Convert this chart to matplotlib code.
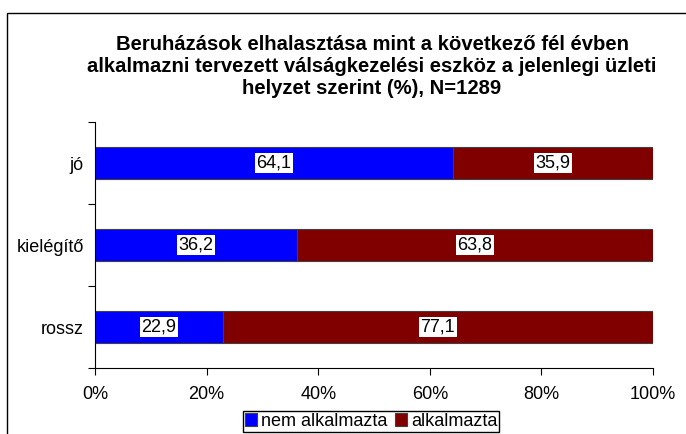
import matplotlib.pyplot as plt
import matplotlib.patches as mpatches
import numpy as np

plt.rcParams['font.family'] = ['Liberation Sans', 'DejaVu Sans']

# adatok
categories = ['jó', 'kielégítő', 'rossz']
nem_alkalmazta = [64.1, 36.2, 22.9]
alkalmazta = [35.9, 63.8, 77.1]
series_names = ['nem alkalmazta', 'alkalmazta']
colors = ['#0000FF', '#800000']
x_ticks = [0, 20, 40, 60, 80, 100]

title = ('Beruházások elhalasztása mint a következő fél évben\n'
         'alkalmazni tervezett válságkezelési eszköz a jelenlegi üzleti\n'
         'helyzet szerint (%), N=1289')

fig = plt.figure(figsize=(6.86, 4.34), dpi=100)
ax = fig.add_axes([95 / 686, 1 - 368 / 434, (653 - 95) / 686, 246 / 434])

y = np.arange(len(categories))
b1 = ax.barh(y, nem_alkalmazta, height=0.4, color=colors[0],
             edgecolor='#404040', linewidth=0.8, label=series_names[0])
b2 = ax.barh(y, alkalmazta, left=nem_alkalmazta, height=0.4, color=colors[1],
             edgecolor='#404040', linewidth=0.8, label=series_names[1])

# értékcímkék
for i in range(len(categories)):
    for left, val in [(0, nem_alkalmazta[i]), (nem_alkalmazta[i], alkalmazta[i])]:
        ax.text(left + val / 2, y[i], f'{val:.1f}'.replace('.', ','),
                ha='center', va='center', fontsize=13,
                bbox=dict(facecolor='white', edgecolor='none', pad=1))

ax.set_xlim(0, 100)
ax.set_ylim(2.5, -0.5)
ax.set_xticks(x_ticks)
ax.set_xticklabels([f'{t}%' for t in x_ticks], fontsize=13)
ax.set_yticks([-0.5, 0.5, 1.5, 2.5])
ax.set_yticklabels([])
ax.set_yticks(y, minor=True)
ax.set_yticklabels(categories, minor=True, fontsize=13)
ax.tick_params(axis='y', which='minor', length=0, pad=8)
ax.tick_params(axis='y', which='major', length=5, direction='out')
ax.tick_params(axis='x', length=5, direction='out', pad=8)
ax.spines['top'].set_visible(False)
ax.spines['right'].set_visible(False)

fig.text(372 / 686, 1 - 67 / 434, title, ha='center', va='center',
         fontsize=14.6, fontweight='bold', linespacing=1.2)

fig.legend(handles=[b1, b2], loc='center', bbox_to_anchor=(371 / 686, 1 - 421.5 / 434),
           ncol=2, fontsize=13, frameon=True, fancybox=False, edgecolor='black',
           framealpha=1, handlelength=0.7, handleheight=0.7, handletextpad=0.2,
           columnspacing=0.4, borderpad=0.1, borderaxespad=0)

# keret
border = mpatches.Rectangle((7 / 686, -0.1), 1.0, 1.1 - 13 / 434,
                            transform=fig.transFigure, fill=False,
                            edgecolor='black', linewidth=1)
fig.patches.append(border)

fig.savefig('out.png', dpi=100)
